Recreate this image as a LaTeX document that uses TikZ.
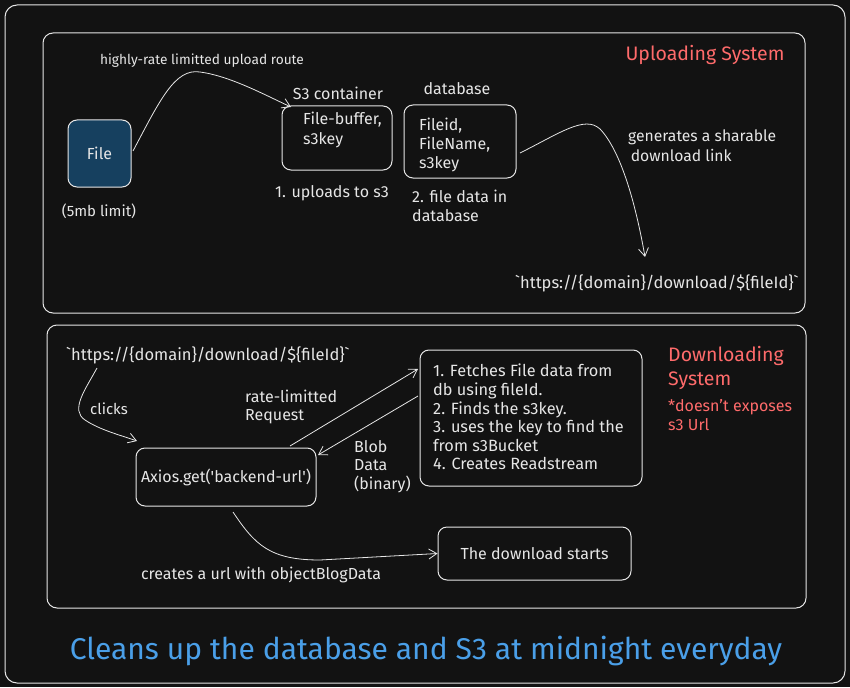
\documentclass[tikz,border=0pt]{standalone}
\usepackage{fontspec}
\setmainfont{Fira Sans}
\usetikzlibrary{arrows.meta}
\definecolor{bg}{HTML}{121212}
\definecolor{ink}{HTML}{E6E6E6}
\definecolor{filefill}{HTML}{16405F}
\definecolor{redt}{HTML}{FF6B6B}
\definecolor{bluet}{HTML}{4A9FE8}
\tikzset{
  panel/.style={draw=ink, line width=1pt, rounded corners=10pt},
  box/.style={draw=ink, line width=1pt, rounded corners=9pt},
  txt/.style={text=ink, font=\fontsize{16}{19}\selectfont, inner sep=0pt},
  ltxt/.style={txt, align=left},
  arr/.style={draw=ink, line width=0.8pt, -{Straight Barb[length=8pt,width=10pt]}},
  red/.style={text=redt, inner sep=0pt, align=left},
}
\begin{document}
\begin{tikzpicture}[x=1pt,y=-1pt]
\fill[bg] (0,0) rectangle (850,687);
\useasboundingbox (0,0) rectangle (850,687);
\draw[panel, rounded corners=12pt] (5,5) rectangle (845,683);
% panels
\draw[panel] (43,33) rectangle (805,313);
\draw[panel] (47,325) rectangle (806,608);

% ---------- Uploading ----------
\node[red, font=\fontsize{19.5}{24}\selectfont] (upsys) at (705,55) {Uploading System};

\node[box, fill=filefill, minimum width=63pt, minimum height=67pt, txt, inner sep=0pt] (file) at (99.5,153.5) {File};
\node[txt, font=\fontsize{15}{18}\selectfont] (limit) at (99,211) {(5mb limit)};

\node[box, minimum width=110pt, minimum height=64pt] (s3) at (337,138) {};
\node[ltxt, anchor=north west, font=\fontsize{16}{20}\selectfont] (s3t) at (303,112) {File-buffer,\\s3key};
\node[txt] (s3lab) at (338,93) {S3 container};
\node[txt] (s3step) at (332,193) {1. uploads to s3};

\node[box, minimum width=112pt, minimum height=73pt] (db) at (460,141.5) {};
\node[ltxt, anchor=north west] (dbt) at (419,118) {Fileid,\\FileName,\\s3key};
\node[txt] (dblab) at (457,89) {database};
\node[ltxt, anchor=north west] (dbstep) at (412,190) {2. file data in\\database};

\node[txt, font=\fontsize{13.7}{16}\selectfont] (route) at (202,61) {highly-rate limitted upload route};
\coordinate (fileR) at (133,151);
\draw[arr] (fileR) .. controls (160,100) and (175,68) .. (200,72) .. controls (230,76) and (265,95) .. (291,107);

\node[ltxt, anchor=north west, font=\fontsize{15.7}{20}\selectfont] (gen) at (628,130) {generates a sharable\\\,download link};
\node[txt, font=\fontsize{16.5}{19}\selectfont, anchor=west] (url1) at (515,283) {\textasciigrave https://\{domain\}/download/\$\{fileId\}\textasciigrave};
\coordinate (dbR) at (520,153);
\coordinate (gTip) at (645,257);
\draw[arr] (dbR) .. controls (560,133) and (585,115) .. (600,129) .. controls (620,150) and (635,200) .. (gTip);

% ---------- Downloading ----------
\node[red, font=\fontsize{19.5}{24}\selectfont, anchor=north west] (dnsys) at (668,346) {Downloading\\System};
\node[red, font=\fontsize{16}{19}\selectfont, anchor=north west] (dnnote) at (668,399) {*doesn't exposes\\s3 Url};

\node[txt, font=\fontsize{16.5}{19}\selectfont, anchor=west] (url2) at (66,355) {\textasciigrave https://\{domain\}/download/\$\{fileId\}\textasciigrave};
\node[txt, font=\fontsize{15}{18}\selectfont] (clicks) at (109,409) {clicks};
\coordinate (uS) at (97,368);
\draw[arr] (uS) .. controls (85,390) and (70,410) .. (85,420) .. controls (100,430) and (120,435) .. (137,441);

\node[box, minimum width=180pt, minimum height=58pt, txt] (axios) at (226,477) {Axios.get(\textquotesingle backend-url\textquotesingle)};

\node[box, minimum width=222pt, minimum height=136pt] (fetch) at (531,418) {};
\node[ltxt, anchor=north west, font=\fontsize{16.3}{18.6}\selectfont] (fetcht) at (433,364) {1. Fetches File data from\\db using fileId.\\2. Finds the s3key.\\3. uses the key to find the\\from s3Bucket\\4. Creates Readstream};

\node[ltxt, anchor=north west, font=\fontsize{16}{18}\selectfont] (rl) at (245,390) {rate-limitted\\Request};
\node[ltxt, anchor=north west, font=\fontsize{16}{18.5}\selectfont] (blob) at (354,440) {Blob\\Data\\(binary)};

\coordinate (axT) at (290,446);
\coordinate (fL1) at (418,369);
\draw[arr] (axT) -- (fL1);
\coordinate (fL2) at (418,396);
\coordinate (axR) at (318,455);
\draw[arr] (fL2) -- (axR);

\node[box, minimum width=193pt, minimum height=53pt, txt] (dl) at (534.5,553.5) {The download starts};
\coordinate (axB) at (233,512);
\draw[arr] (axB) .. controls (255,545) and (270,560) .. (320,560) -- (dl.west);
\node[txt] (blogd) at (261,575) {creates a url with objectBlogData};

% ---------- bottom ----------
\node[text=bluet, font=\fontsize{30}{34}\selectfont, inner sep=0pt] (clean) at (426,651) {Cleans up the database and S3 at midnight everyday};
\end{tikzpicture}
\end{document}
